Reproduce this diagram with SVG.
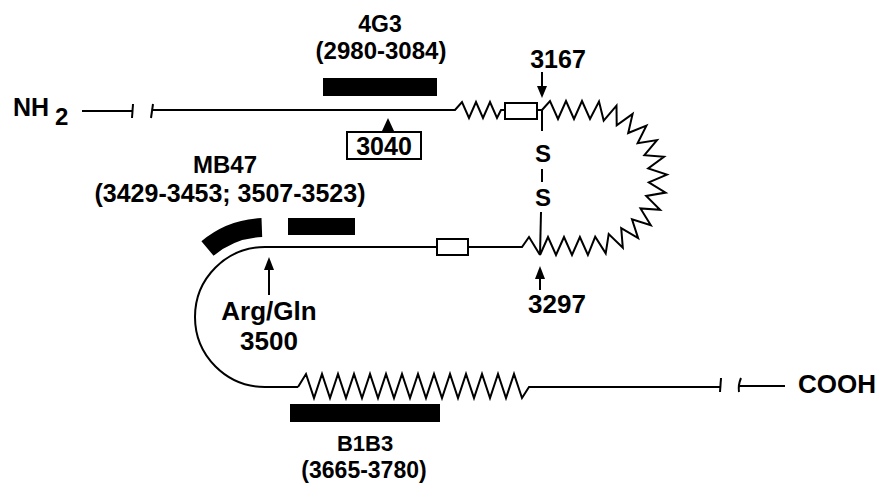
<svg xmlns="http://www.w3.org/2000/svg" width="881" height="484" viewBox="0 0 881 484">
<style>
  .ln{fill:none;stroke:#000;stroke-width:2;stroke-linejoin:miter;stroke-linecap:butt}
  .bar{fill:#000;stroke:none}
  .box{fill:#fff;stroke:#000;stroke-width:2}
  .t{font-family:"Liberation Sans",Arial,Helvetica,sans-serif;font-weight:bold;fill:#000;text-anchor:middle}
  .ah{fill:#000;stroke:none}
</style>
<rect width="881" height="484" fill="#fff"/>

<g id="nh2-terminus">
  <text class="t" x="13" y="116" font-size="25" style="text-anchor:start">NH</text>
  <text class="t" x="55" y="125" font-size="24" style="text-anchor:start">2</text>
</g>

<g id="connectors">
  <!-- top strand -->
  <polyline class="ln" points="82,111 133,111"/>
  <line class="ln" x1="133" y1="104" x2="132" y2="118"/>
  <line class="ln" x1="153" y1="104" x2="151" y2="118"/>
  <polyline class="ln" points="152,110 455,110 462,102 469,118 476,102 483,118 490,102 497,118 501,110 505,110"/>
  <line class="ln" x1="537" y1="110" x2="542" y2="110"/>
  <!-- disulfide loop zigzag -->
  <polyline class="ln" points="542,110 550,101 558,119 566,101 574,119 582,101 590,119 599,101.5 603.7,120.6 616.5,105.7 616.7,125.4 632.6,113.9 628.2,133 646.4,125.6 637.6,143.2 657,140.1 644.4,155.2 664,156.8 648.2,168.5 666.9,174.6 648.8,182.3 665.6,192.6 646.2,195.9 660.1,209.8 640.5,208.5 650.8,225.3 632,219.4 638.1,238.1 621.2,228.1 622.8,247.7 608.7,234 605.7,253.4 595.2,236.8 587.9,255 579.9,237 572,255 564,237 556,255 548,237 540,255"/>
  <!-- bottom strand right of box -->
  <polyline class="ln" points="468,247 522,247 529,237 540,255"/>
  <!-- bottom strand left of box and U-turn -->
  <path class="ln" d="M437 247 L265 247 A70 70 0 0 0 265 387 L298 387"/>
  <polyline class="ln" points="298,387 306,374 314,398 322,374 330,398 338,374 346,398 354,374 362,398 370,374 378,398 386,374 394,398 402,374 410,398 418,374 426,398 434,374 442,398 450,374 458,398 466,374 474,398 482,374 490,398 498,374 506,398 514,374 522,398 529,387 721,387"/>
  <line class="ln" x1="721" y1="378" x2="720" y2="392"/>
  <path class="ln" d="M741 378 Q738 385 739 392"/>
  <line class="ln" x1="739" y1="386" x2="785" y2="386"/>
  <!-- disulfide bond lines -->
  <line class="ln" x1="542" y1="110" x2="542" y2="131"/>
  <line class="ln" x1="542" y1="169" x2="542" y2="182"/>
  <line class="ln" x1="541" y1="212" x2="540" y2="255"/>
  <!-- arrows -->
  <line class="ln" x1="542" y1="72" x2="542" y2="88"/>
  <polygon class="ah" points="537,86 547,86 542,98"/>
  <line class="ln" x1="540" y1="290" x2="540" y2="276"/>
  <polygon class="ah" points="535,279 545,279 540,266"/>
  <line class="ln" x1="269" y1="295" x2="269" y2="268"/>
  <polygon class="ah" points="264,270 274,270 269,257"/>
  <polygon class="ah" points="382,131 394,131 388,118"/>
</g>

<g id="boxes">
  <rect class="box" x="505" y="103" width="32" height="16"/>
  <rect class="box" x="437" y="239" width="31" height="16"/>
</g>

<g id="cooh-terminus">
  <text class="t" x="798" y="393" font-size="26" style="text-anchor:start">COOH</text>
</g>

<g id="epitope-4G3">
  <text class="t" x="380" y="32" font-size="23">4G3</text>
  <text class="t" x="381" y="59" font-size="24">(2980-3084)</text>
  <rect class="bar" x="323" y="78" width="114" height="18"/>
</g>

<g id="site-3040">
  <rect class="box" x="347" y="132" width="74" height="27"/>
  <text class="t" x="384" y="155" font-size="25">3040</text>
</g>

<g id="site-3167">
  <text class="t" x="558" y="68" font-size="25">3167</text>
</g>

<g id="disulfide">
  <text class="t" x="543" y="162" font-size="24">S</text>
  <text class="t" x="543" y="206" font-size="24">S</text>
</g>

<g id="epitope-MB47">
  <text class="t" x="225" y="173" font-size="24">MB47</text>
  <text class="t" x="230" y="202" font-size="25">(3429-3453; 3507-3523)</text>
  <path class="bar" d="M201.4 241.2 A99 99 0 0 1 261.5 218.1 L262.2 237 A80 80 0 0 0 213.6 255.7 Z"/>
  <rect class="bar" x="288" y="218" width="67" height="17"/>
</g>

<g id="site-3500">
  <text class="t" x="269" y="320" font-size="26">Arg/Gln</text>
  <text class="t" x="269" y="350" font-size="26">3500</text>
</g>

<g id="site-3297">
  <text class="t" x="557" y="313" font-size="26">3297</text>
</g>

<g id="epitope-B1B3">
  <rect class="bar" x="290" y="404" width="150" height="18"/>
  <text class="t" x="365" y="451" font-size="22">B1B3</text>
  <text class="t" x="364" y="478" font-size="23">(3665-3780)</text>
</g>
</svg>
